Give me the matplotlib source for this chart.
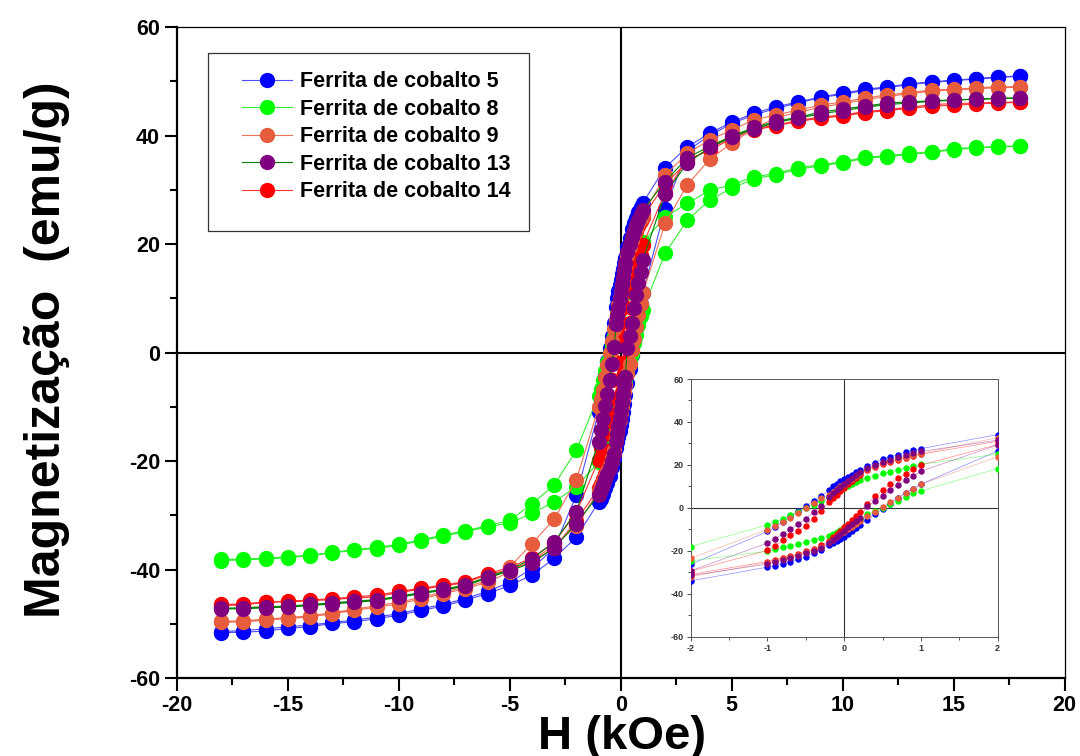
import matplotlib
matplotlib.use("Agg")
import matplotlib.pyplot as plt
from matplotlib.patches import Rectangle
from matplotlib.ticker import MultipleLocator

plt.rcParams['font.family'] = ['Liberation Sans', 'DejaVu Sans']
plt.rcParams['font.weight'] = 'bold'
plt.rcParams['axes.unicode_minus'] = False

# campo aplicado (kOe): ramo descendente de +18 a -18
H_down = [18, 17, 16, 15, 14, 13, 12, 11, 10, 9, 8, 7, 6, 5, 4, 3, 2,
          1.0, 0.9, 0.8, 0.7, 0.6, 0.5, 0.4, 0.3,
          0.2, 0.15, 0.1, 0.05, 0.0, -0.05, -0.1, -0.15, -0.2,
          -0.3, -0.4, -0.5, -0.6, -0.7, -0.8, -0.9, -1.0,
          -2, -3, -4, -5, -6, -7, -8, -9, -10, -11, -12, -13, -14, -15, -16, -17, -18]
H_up = H_down[::-1]

labels = ["Ferrita de cobalto 5", "Ferrita de cobalto 8", "Ferrita de cobalto 9",
          "Ferrita de cobalto 13", "Ferrita de cobalto 14"]

# magnetizacao (emu/g), ramo descendente
blue_down = [51.0, 50.8, 50.5, 50.2, 49.9, 49.5, 49.0, 48.5, 47.8, 47.1, 46.2, 45.3, 44.1, 42.5, 40.4, 37.9, 34.1,
             27.6, 26.9, 25.9, 24.8, 23.8, 22.7, 21.1, 19.4,
             17.5, 16.5, 15.5, 14.4, 13.4, 12.4, 11.3, 10.1, 8.5,
             5.4, 3.1, 0.9, -1.5, -4.0, -6.5, -9.0, -11.0,
             -26.3, -36.0, -39.8, -42.3, -44.0, -45.3, -46.4, -47.2, -48.1, -48.7, -49.3, -49.7, -50.2, -50.5, -50.9, -51.2, -51.4]
green_down = [38.1, 38.0, 37.8, 37.6, 37.0, 36.7, 36.3, 36.0, 35.2, 34.6, 34.1, 33.0, 32.4, 30.9, 29.9, 27.5, 25.0,
              20.3, 19.3, 18.4, 17.6, 16.8, 16.0, 15.0, 14.0,
              13.2, 12.2, 11.2, 10.2, 9.2, 8.2, 7.2, 6.1, 5.0,
              3.0, 1.5, 0.0, -1.7, -3.3, -5.1, -6.7, -7.9,
              -18.0, -24.4, -27.9, -30.9, -31.9, -32.8, -33.6, -34.5, -35.3, -35.9, -36.3, -36.8, -37.3, -37.6, -37.9, -38.0, -38.1]
orange_down = [49.0, 49.0, 48.8, 48.5, 48.4, 47.9, 47.5, 46.9, 46.2, 45.6, 44.7, 43.8, 42.9, 41.0, 39.2, 36.7, 32.7,
               25.3, 24.6, 23.8, 22.8, 21.8, 20.7, 19.5, 18.0,
               16.0, 14.8, 13.6, 12.4, 11.2, 10.0, 8.7, 7.3, 6.0,
               4.4, 2.2, 0.0, -2.2, -4.5, -6.8, -8.5, -10.1,
               -23.5, -30.7, -35.2, -39.5, -42.0, -43.2, -44.1, -45.1, -46.0, -46.6, -47.3, -47.9, -48.5, -48.8, -49.1, -49.4, -49.5]
purple_down = [46.9, 46.9, 46.7, 46.6, 46.4, 46.2, 46.0, 45.4, 44.9, 44.3, 43.4, 42.6, 41.5, 39.9, 38.0, 35.9, 31.5,
               26.3, 25.5, 24.5, 23.5, 22.5, 21.3, 20.0, 18.5,
               16.5, 15.2, 13.9, 12.6, 11.2, 9.8, 8.3, 6.8, 5.2,
               1.0, -2.0, -5.0, -7.6, -9.8, -12.2, -14.3, -16.4,
               -29.3, -34.9, -38.0, -40.0, -41.3, -42.8, -43.6, -44.2, -44.9, -45.5, -45.8, -46.1, -46.4, -46.7, -46.8, -47.0, -47.1]
red_down = [46.2, 46.1, 46.0, 45.9, 45.7, 45.2, 44.8, 44.4, 43.8, 43.4, 42.8, 41.9, 41.3, 39.7, 37.6, 35.2, 31.0,
            25.0, 24.3, 23.4, 22.5, 21.5, 20.3, 19.0, 17.5,
            15.5, 14.0, 12.5, 11.0, 9.4, 7.8, 6.1, 4.4, 2.6,
            -1.5, -5.0, -8.5, -10.9, -12.7, -15.2, -17.6, -19.8,
            -29.5, -35.0, -37.8, -39.6, -40.7, -42.2, -42.8, -43.4, -44.0, -44.7, -45.0, -45.3, -45.6, -45.8, -45.9, -46.3, -46.4]

# ramo ascendente (de -18 a +18)
blue_up = [-51.6, -51.5, -51.3, -50.8, -50.5, -49.9, -49.6, -49.0, -48.4, -47.5, -46.7, -45.6, -44.4, -42.9, -41.0, -37.9, -34.0,
           -27.6, -26.9, -26.0, -25.0, -24.0, -22.7, -21.0, -19.4,
           -17.5, -16.5, -15.5, -14.4, -13.4, -12.2, -11.0, -9.5, -7.8,
           -5.5, -3.0, -0.5, 2.0, 4.5, 7.0, 9.0, 11.0,
           26.5, 37.2, 40.0, 42.2, 43.8, 45.0, 46.0, 47.0, 47.6, 48.3, 48.8, 49.4, 49.8, 50.1, 50.4, 50.7, 50.9]
green_up = [-38.3, -38.2, -38.0, -37.8, -37.4, -36.9, -36.4, -36.1, -35.5, -34.7, -33.8, -33.0, -32.1, -31.4, -29.6, -27.5, -24.7,
            -20.2, -19.3, -18.4, -17.6, -16.8, -16.0, -15.0, -14.0,
            -13.2, -12.2, -11.2, -10.2, -9.2, -8.2, -7.2, -6.1, -5.0,
            -3.0, -1.5, -0.3, 1.7, 3.3, 5.1, 6.7, 7.9,
            18.3, 24.4, 28.1, 30.3, 32.0, 32.8, 33.8, 34.4, 35.0, 35.8, 36.1, 36.5, 36.9, 37.4, 37.7, 37.9, 38.0]
orange_up = [-49.7, -49.6, -49.3, -49.0, -48.7, -48.1, -47.5, -46.9, -46.3, -45.4, -44.4, -43.5, -42.3, -40.4, -38.3, -35.5, -32.0,
             -25.5, -24.6, -23.7, -22.8, -21.8, -20.7, -19.5, -18.0,
             -16.0, -14.8, -13.6, -12.4, -11.2, -10.0, -8.7, -7.3, -6.0,
             -4.0, -2.0, 0.5, 2.5, 4.8, 7.0, 9.0, 11.0,
             23.8, 30.9, 35.6, 38.6, 41.3, 43.3, 44.3, 45.2, 45.9, 46.6, 47.2, 47.7, 48.2, 48.4, 48.6, 48.8, 48.9]
purple_up = [-47.2, -47.2, -47.0, -46.9, -46.6, -46.3, -46.0, -45.7, -45.1, -44.4, -43.8, -43.0, -41.5, -40.2, -38.7, -36.0, -31.5,
             -26.2, -25.3, -24.3, -23.3, -22.3, -21.2, -20.0, -18.6,
             -16.5, -15.0, -13.5, -12.0, -10.6, -9.1, -7.6, -6.0, -4.5,
             0.8, 3.1, 5.4, 8.2, 10.6, 12.9, 14.8, 17.1,
             29.3, 34.9, 37.8, 39.7, 41.2, 42.4, 43.2, 44.0, 44.6, 45.2, 45.7, 46.0, 46.3, 46.5, 46.7, 46.8, 46.9]
red_up = [-46.6, -46.5, -46.0, -45.9, -45.7, -45.5, -45.2, -45.0, -44.2, -43.6, -43.0, -42.4, -40.9, -40.0, -38.5, -36.0, -31.0,
          -25.0, -24.2, -23.3, -22.4, -21.4, -20.3, -19.0, -17.5,
          -15.5, -13.8, -12.2, -10.6, -9.0, -7.3, -5.6, -3.8, -1.8,
          2.0, 5.4, 8.2, 11.0, 13.7, 15.7, 18.0, 19.9,
          29.5, 35.5, 37.3, 39.4, 41.0, 41.8, 42.6, 43.2, 43.6, 44.2, 44.6, 45.0, 45.4, 45.6, 45.8, 46.0, 46.1]

downs = [blue_down, green_down, orange_down, purple_down, red_down]
ups = [blue_up, green_up, orange_up, purple_up, red_up]
marker_cols = ['#0000ff', '#00ff00', '#e65c3c', '#800080', '#ff0000']
line_cols = ['#4d4dff', '#33ee33', '#f07058', '#008000', '#ff3333']
zorders = [2, 3, 5, 6, 4]

W, Hpx = 1080, 756
fig = plt.figure(figsize=(W / 100, Hpx / 100), dpi=100)

# eixo principal
ax = fig.add_axes([176.7 / W, 1 - 678.3 / Hpx, 888 / W, 651.3 / Hpx])
ax.axhline(0, color='black', lw=1.5, zorder=1)
ax.axvline(0, color='black', lw=1.5, zorder=1)
lines = []
for i in range(5):
    ln, = ax.plot(H_down + H_up, downs[i] + ups[i], '-o', color=line_cols[i], lw=0.8,
                  mfc=marker_cols[i], mec=marker_cols[i], ms=10, zorder=zorders[i], label=labels[i])
    lines.append(ln)
ax.set_xlim(-20, 20)
ax.set_ylim(-60, 60)
ax.xaxis.set_major_locator(MultipleLocator(5))
ax.xaxis.set_minor_locator(MultipleLocator(2.5))
ax.yaxis.set_major_locator(MultipleLocator(20))
ax.yaxis.set_minor_locator(MultipleLocator(10))
ax.tick_params(which='major', direction='out', length=9, width=1.5, labelsize=15.5, pad=3)
ax.tick_params(which='minor', direction='out', length=5, width=1.5)
for s in ['left', 'bottom']:
    ax.spines[s].set_linewidth(1.6)
for s in ['top', 'right']:
    ax.spines[s].set_linewidth(0.9)

# legenda
ax.add_patch(Rectangle((0.0352, 0.6866), 0.3615, 0.2734, transform=ax.transAxes,
                       fill=False, edgecolor='#333333', lw=0.9, zorder=7))
ax.legend(handles=lines, loc='upper left', bbox_to_anchor=(0.0732, 0.9317), frameon=False,
          borderpad=0, borderaxespad=0, fontsize=15.5, handlelength=2.35, handletextpad=0.38,
          labelspacing=0.3, markerscale=1.0)

fig.text(60 / W, 1 - 350 / Hpx, "Magnetização  (emu/g)", rotation=90, rotation_mode='anchor',
         ha='center', va='baseline', fontsize=36, fontweight='bold')
fig.text(621.7 / W, 1 - 749 / Hpx, "H (kOe)", ha='center', va='baseline', fontsize=34, fontweight='bold')

# inset (zoom -2 a 2)
ins = fig.add_axes([690.7 / W, 1 - 636.7 / Hpx, 307 / W, 257.7 / Hpx])
ins.axhline(0, color='#333333', lw=0.8, zorder=1)
ins.axvline(0, color='#333333', lw=0.8, zorder=1)
for i in range(5):
    ins.plot(H_down + H_up, downs[i] + ups[i], '-', color=marker_cols[i], lw=0.5, alpha=0.45, zorder=zorders[i])
    ins.plot(H_down + H_up, downs[i] + ups[i], 'o', mfc=marker_cols[i], mec=marker_cols[i],
             ms=3.6, zorder=zorders[i] + 5)
ins.set_xlim(-2, 2)
ins.set_ylim(-60, 60)
ins.xaxis.set_major_locator(MultipleLocator(1))
ins.xaxis.set_minor_locator(MultipleLocator(0.5))
ins.yaxis.set_major_locator(MultipleLocator(20))
ins.yaxis.set_minor_locator(MultipleLocator(10))
ins.tick_params(which='major', direction='out', length=3, width=0.6, labelsize=6.5, pad=2, colors='#333333')
ins.tick_params(which='minor', direction='out', length=2, width=0.6, colors='#333333')
for s in ins.spines.values():
    s.set_linewidth(0.7)
    s.set_edgecolor('#555555')

fig.savefig("out.png", dpi=100)
